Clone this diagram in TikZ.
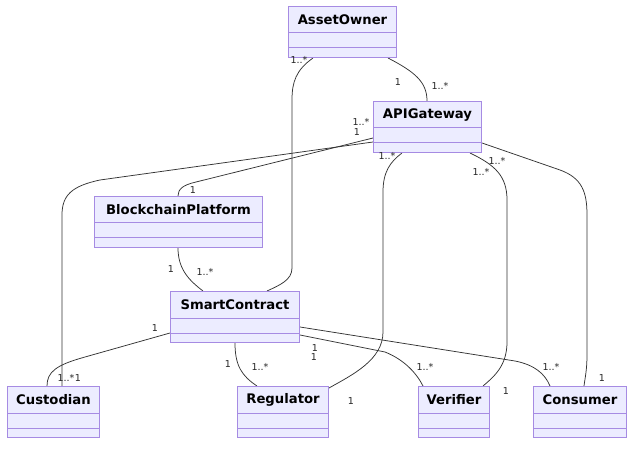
\documentclass[tikz,border=0pt]{standalone}
\usepackage{fontspec}
\setmainfont{DejaVu Sans}
\usetikzlibrary{calc,backgrounds}
\definecolor{boxfill}{HTML}{ECECFF}
\definecolor{boxline}{HTML}{A68BE3}
\definecolor{edgecol}{HTML}{333333}
\tikzset{
  classbox/.style={draw=boxline, fill=boxfill, line width=1pt, inner sep=0pt, minimum height=51pt, anchor=north west},
  classsep/.style={draw=boxline, line width=1pt},
  classtitle/.style={font=\bfseries\fontsize{13.2}{15}\selectfont, text=black, inner sep=0pt},
  rel/.style={draw=edgecol, line width=0.75pt},
  mult/.style={font=\fontsize{9.5}{10}\selectfont, text=black!85, inner sep=0pt}
}
\newcommand\umlclass[5]{%
  \node[classbox, minimum width=#4pt] (#1) at (#2,#3) {};
  \node[classtitle] (#1t) at ($(#1.north)+(0,14)$) {#5};
  \draw[classsep] ([yshift=-27pt]#1.north west) -- ([yshift=-27pt]#1.north east);
  \draw[classsep] ([yshift=-42pt]#1.north west) -- ([yshift=-42pt]#1.north east);
}
\begin{document}
\begin{tikzpicture}[x=1pt,y=-1pt]
\useasboundingbox (0,0) rectangle (640,449);
\umlclass{AO}{288}{6}{108}{AssetOwner}
\umlclass{API}{373}{101}{108}{APIGateway}
\umlclass{BP}{94}{196}{168}{BlockchainPlatform}
\umlclass{SC}{170}{291}{129}{SmartContract}
\umlclass{Cu}{7}{386}{92}{Custodian}
\umlclass{Re}{237}{386}{91}{Regulator}
\umlclass{Ve}{418}{386}{71}{Verifier}
\umlclass{Co}{533}{386}{93}{Consumer}
\begin{pgfonlayer}{background}
% AssetOwner -- SmartContract
\draw[rel] ($(AO.south west)+(25,0)$) .. controls (296,70) and (292,82) .. (292,100) -- (292,268) .. controls (292,280) and (280,285) .. ($(SC.north west)+(97,0)$);
% AssetOwner -- APIGateway
\draw[rel] ($(AO.south west)+(100,0)$) .. controls (415,72) and (427,82) .. ($(API.north west)+(54,0)$);
% APIGateway -- BlockchainPlatform
\draw[rel] ($(API.north west)+(0,37)$) -- (196,182) .. controls (183,185) and (178,189) .. ($(BP.north west)+(84,0)$);
% APIGateway -- Custodian
\draw[rel] ($(API.north west)+(0,41)$) -- (100,180) .. controls (72,186) and (62,195) .. (62,215) -- ($(Cu.north west)+(55,0)$);
% APIGateway -- Regulator
\draw[rel] ($(API.south west)+(29,0)$) .. controls (390,162) and (383,172) .. (383,192) -- (383,332) .. controls (383,360) and (352,375) .. ($(Re.north east)+(0,2)$);
% APIGateway -- Verifier
\draw[rel] ($(API.south west)+(97,0)$) .. controls (495,165) and (507,176) .. (507,200) -- (507,342) .. controls (507,365) and (495,376) .. ($(Ve.north west)+(65,0)$);
% APIGateway -- Consumer
\draw[rel] ($(API.north east)+(0,42)$) -- (560,170) .. controls (582,178) and (587,192) .. (587,215) -- (587,355) .. controls (587,370) and (585,378) .. ($(Co.north west)+(51,0)$);
% BlockchainPlatform -- SmartContract
\draw[rel] ($(BP.south west)+(84,0)$) .. controls (178,270) and (190,281) .. ($(SC.north west)+(33,0)$);
% SmartContract -- Custodian
\draw[rel] ($(SC.north west)+(0,42)$) -- (85,357) .. controls (56,365) and (47,372) .. ($(Cu.north west)+(40,0)$);
% SmartContract -- Regulator
\draw[rel] ($(SC.south west)+(65,0)$) .. controls (235,366) and (242,376) .. ($(Re.north west)+(20,0)$);
% SmartContract -- Verifier
\draw[rel] ($(SC.north east)+(0,44)$) -- (385,352) .. controls (405,360) and (417,374) .. ($(Ve.north west)+(5,0)$);
% SmartContract -- Consumer
\draw[rel] ($(SC.north east)+(0,36)$) -- (515,361) .. controls (535,365) and (545,374) .. ($(Co.north west)+(17,0)$);
\end{pgfonlayer}
% multiplicities
\node[mult] (m1) at (299,60) {1..*};
\node[mult] (m2) at (398,82) {1};
\node[mult] (m3) at (440,86) {1..*};
\node[mult] (m4) at (361,122) {1..*};
\node[mult] (m5) at (357,132) {1};
\node[mult] (m6) at (387,156) {1..*};
\node[mult] (m7) at (497,161) {1..*};
\node[mult] (m8) at (481,172) {1..*};
\node[mult] (m9) at (193,190) {1};
\node[mult] (m10) at (171,269) {1};
\node[mult] (m11) at (205,272) {1..*};
\node[mult] (m12) at (155,328) {1};
\node[mult] (m13) at (66,378) {1..*};
\node[mult] (m14) at (78,378) {1};
\node[mult] (m15) at (228,364) {1};
\node[mult] (m16) at (260,367) {1..*};
\node[mult] (m17) at (315,348) {1};
\node[mult] (m18) at (314,357) {1};
\node[mult] (m19) at (425,367) {1..*};
\node[mult] (m20) at (551,367) {1..*};
\node[mult] (m21) at (602,378) {1};
\node[mult] (m22) at (506,391) {1};
\node[mult] (m23) at (351,401) {1};
\end{tikzpicture}
\end{document}
